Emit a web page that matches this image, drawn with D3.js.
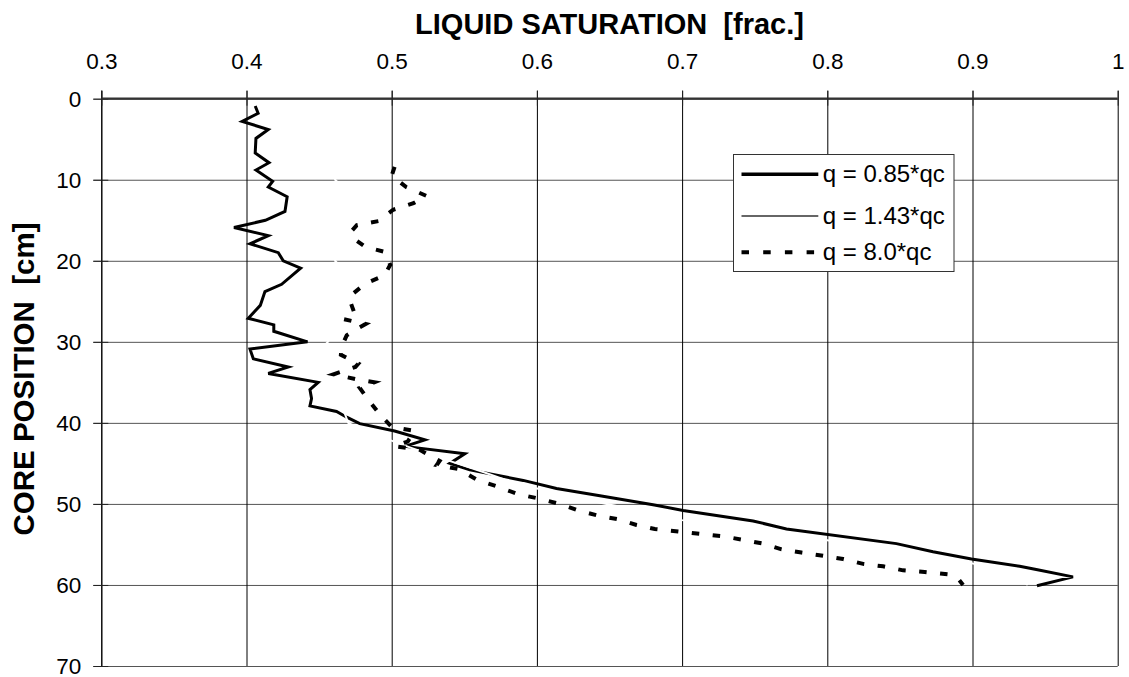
<!DOCTYPE html>
<html>
<head>
<meta charset="utf-8">
<script src="https://cdn.jsdelivr.net/npm/d3@7"></script>
<style>
  html, body { margin: 0; padding: 0; background: #fff; }
  svg { display: block; font-family: "Liberation Sans", Arial, sans-serif; }
</style>
</head>
<body>
<svg id="chart" width="1129" height="677"></svg>
<script>
// Axis ticks
const xTicks = [0.3, 0.4, 0.5, 0.6, 0.7, 0.8, 0.9, 1.0];
const yTicks = [0, 10, 20, 30, 40, 50, 60, 70];

// q = 0.85*qc : core position [cm] and liquid saturation [frac.]
const depth085 = [0.9, 1.8, 2.8, 3.8, 4.9, 6.7, 7.9, 8.8, 10.2, 10.9, 12.1, 13.9, 15.0, 15.9, 16.9, 17.9,
  19.0, 20.0, 20.9, 22.9, 23.8, 25.5, 27.1, 27.9, 28.7, 30.0, 30.9, 32.1, 33.1, 33.9, 35.0, 35.9,
  37.0, 37.9, 38.6, 39.3, 40.1, 41.0, 42.1, 42.9, 43.8, 45.0, 45.8, 47.1, 48.1, 49.0, 50.1, 50.8,
  52.1, 53.1, 54.9, 55.9, 56.8, 57.7, 58.1, 59.0, 60.1];
const sat085 = [0.406, 0.408, 0.397, 0.415, 0.4065, 0.406, 0.4155, 0.4065, 0.418, 0.415, 0.428, 0.4265,
  0.413, 0.3914, 0.415, 0.4024, 0.4219, 0.4253, 0.4373, 0.4242, 0.4127, 0.4095, 0.4012, 0.4188, 0.4188,
  0.442, 0.4024, 0.4047, 0.4288, 0.415, 0.4494, 0.4437, 0.4448, 0.4437, 0.462, 0.469, 0.478, 0.502,
  0.5229, 0.5091, 0.5504, 0.54, 0.5538, 0.5906, 0.6135, 0.6434, 0.68, 0.7007, 0.7489, 0.7719, 0.8476,
  0.8728, 0.8993, 0.9325, 0.9439, 0.9692, 0.9444];

// q = 1.43*qc
const depth143 = [1, 2, 3, 4, 5, 6, 7, 8, 9, 10, 11, 12, 13, 14, 15, 16, 17, 18, 19, 20, 21, 22, 23, 24,
  25, 26, 27, 28, 29, 30, 31, 32, 33, 34, 35, 36, 37, 38, 39, 40, 41, 42, 43, 44, 45, 46, 47, 48, 49,
  50, 51, 52, 53, 54, 55, 56, 57, 58, 59, 60];
const sat143 = [0.452, 0.458, 0.455, 0.462, 0.458, 0.463, 0.460, 0.466, 0.462, 0.461, 0.467, 0.470,
  0.464, 0.457, 0.452, 0.455, 0.461, 0.458, 0.463, 0.461, 0.466, 0.462, 0.458, 0.455, 0.459, 0.456,
  0.452, 0.457, 0.459, 0.456, 0.451, 0.455, 0.460, 0.458, 0.463, 0.461, 0.464, 0.466, 0.468, 0.470,
  0.482, 0.497, 0.512, 0.528, 0.545, 0.562, 0.578, 0.598, 0.621, 0.648, 0.676, 0.700, 0.735, 0.783,
  0.818, 0.858, 0.892, 0.915, 0.930, 0.938];

// q = 8.0*qc
const depth80 = [8.4, 9.5, 10.9, 12.0, 12.9, 13.7, 15.1, 15.6, 16.4, 17.4, 18.3, 18.9, 20.5, 21.8, 22.8,
  24.4, 25.3, 26.3, 27.2, 27.8, 28.3, 29.2, 30.6, 31.6, 32.7, 33.1, 34.0, 34.6, 35.0, 35.7, 37.4, 39.0,
  40.5, 41.0, 42.3, 42.9, 43.3, 44.7, 45.2, 45.7, 47.0, 47.9, 48.8, 49.3, 50.0, 50.8, 51.4, 51.9, 52.6,
  53.1, 53.4, 53.7, 54.0, 54.4, 54.9, 55.6, 56.0, 56.4, 56.8, 57.4, 57.7, 58.2, 58.4, 58.7, 59.2, 60.0];
const sat80 = [0.502, 0.500, 0.510, 0.524, 0.515, 0.501, 0.491, 0.476, 0.472, 0.475, 0.482, 0.495, 0.499,
  0.495, 0.482, 0.471, 0.472, 0.474, 0.467, 0.482, 0.477, 0.469, 0.4655, 0.465, 0.477, 0.475, 0.460,
  0.475, 0.488, 0.478, 0.485, 0.492, 0.500, 0.516, 0.511, 0.502, 0.519, 0.533, 0.531, 0.546, 0.5585,
  0.5734, 0.5871, 0.6002, 0.6158, 0.6284, 0.6411, 0.656, 0.6686, 0.6812, 0.6973, 0.7122, 0.7283, 0.7409,
  0.7558, 0.7685, 0.7822, 0.7971, 0.8109, 0.8247, 0.8384, 0.8522, 0.8671, 0.8832, 0.8900, 0.8935];

const legendLabels = ["q = 0.85*qc", "q = 1.43*qc", "q = 8.0*qc"];

const svg = d3.select("#chart");
const plotLeft = 101.3, plotRight = 1117.7, plotTop = 98.7, plotBottom = 666;

const x = d3.scaleLinear().domain([0.3, 1.0]).range([plotLeft, plotRight]);
const y = d3.scaleLinear().domain([0, 70]).range([plotTop, plotBottom]);

// Horizontal grid lines (grey)
svg.append("g")
  .attr("transform", `translate(${plotLeft},0)`)
  .call(d3.axisLeft(y).tickValues(yTicks).tickSize(-(plotRight - plotLeft)).tickFormat(""))
  .call(g => g.select(".domain").remove())
  .call(g => g.selectAll(".tick line").attr("stroke", "#555").attr("stroke-width", 1).attr("x1", -8));

// Vertical grid lines (black)
svg.append("g")
  .attr("transform", `translate(0,${plotBottom})`)
  .call(d3.axisTop(x).tickValues(xTicks).tickSize(plotBottom - plotTop + 8).tickFormat(""))
  .call(g => g.select(".domain").remove())
  .call(g => g.selectAll(".tick line").attr("stroke", "#000").attr("stroke-width", 1));

// Left axis with tick labels
const yAxis = svg.append("g")
  .attr("transform", `translate(${plotLeft},0)`)
  .call(d3.axisLeft(y).tickValues(yTicks).tickSize(8).tickPadding(12).tickSizeOuter(0));
yAxis.select(".domain").attr("stroke", "#000").attr("d", `M0.5,${plotTop - 8}V${plotBottom}`);
yAxis.selectAll(".tick line").attr("stroke", "#222").attr("x2", -8).attr("x1", 7);
yAxis.selectAll(".tick text").attr("font-size", "22.5px").attr("fill", "#000")
  .attr("font-family", "'Liberation Sans', Arial, sans-serif").attr("dy", "0.33em");

// Top axis with tick labels
const xAxis = svg.append("g")
  .attr("transform", `translate(0,${plotTop})`)
  .call(d3.axisTop(x).tickValues(xTicks).tickSize(8).tickPadding(22).tickSizeOuter(0)
    .tickFormat(d3.format("~g")));
xAxis.select(".domain").attr("stroke", "#333").attr("stroke-width", 2.2)
  .attr("d", `M${plotLeft},0H${plotRight}`);
xAxis.selectAll(".tick line").attr("stroke", "#222").attr("y2", -8).attr("y1", 7);
xAxis.selectAll(".tick text").attr("font-size", "22.5px").attr("fill", "#000")
  .attr("font-family", "'Liberation Sans', Arial, sans-serif");

// Axis titles
svg.append("text")
  .attr("x", (plotLeft + plotRight) / 2).attr("y", 34.3)
  .attr("text-anchor", "middle").attr("font-weight", "bold").attr("font-size", "29px")
  .text("LIQUID SATURATION\u00a0\u00a0[frac.]");

svg.append("text")
  .attr("transform", "translate(34,379) rotate(-90)")
  .attr("text-anchor", "middle").attr("font-weight", "bold").attr("font-size", "29.5px")
  .text("CORE POSITION\u00a0\u00a0[cm]");

// Series
const line = d3.line().x(d => x(d[1])).y(d => y(d[0]));
const s085 = d3.zip(depth085, sat085);
const s143 = d3.zip(depth143, sat143);
const s80 = d3.zip(depth80, sat80);

svg.append("path").datum(s085).attr("d", line)
  .attr("fill", "none").attr("stroke", "#000").attr("stroke-width", 3).attr("stroke-linejoin", "miter");

svg.append("path").datum(s143).attr("d", line)
  .attr("fill", "none").attr("stroke", "#fff").attr("stroke-width", 2);

svg.append("path").datum(s80).attr("d", line)
  .attr("fill", "none").attr("stroke", "#000").attr("stroke-width", 4)
  .attr("stroke-dasharray", "7.5,13.5").attr("stroke-linejoin", "miter");

// Legend
const lg = svg.append("g");
lg.append("rect").attr("x", 733.5).attr("y", 154.5).attr("width", 220.5).attr("height", 117)
  .attr("fill", "#fff").attr("stroke", "#333").attr("stroke-width", 1);
const legendRows = [174.3, 216, 252.3];
const legendStyles = [
  { w: 3.5, c: "#000", dash: null },
  { w: 1.4, c: "#333", dash: null },
  { w: 4, c: "#000", dash: "7.5,14.2" }
];
legendLabels.forEach((label, i) => {
  const st = legendStyles[i];
  const ln = lg.append("line").attr("x1", 741.5).attr("x2", 818.3)
    .attr("y1", legendRows[i]).attr("y2", legendRows[i])
    .attr("stroke", st.c).attr("stroke-width", st.w);
  if (st.dash) ln.attr("stroke-dasharray", st.dash);
  lg.append("text").attr("x", 822.7).attr("y", legendRows[i] + 7.8)
    .attr("font-size", "24px").attr("fill", "#000").text(label);
});
</script>
</body>
</html>
